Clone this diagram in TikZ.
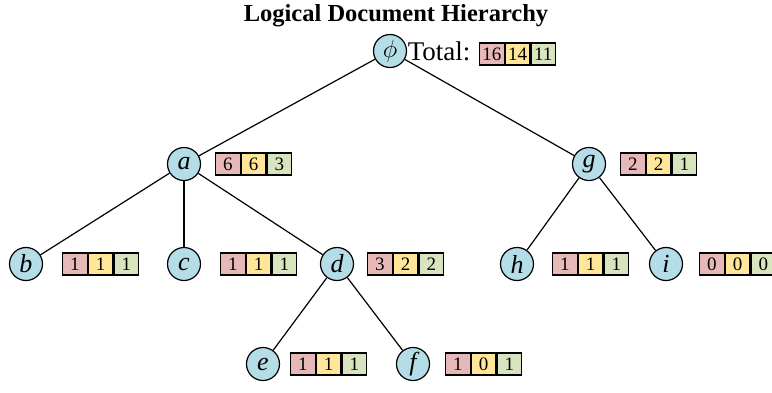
\documentclass[tikz,border=0pt]{standalone}
\usepackage{fontspec}
\setmainfont{Liberation Serif}
\definecolor{cred}{HTML}{E6B8B7}
\definecolor{cyel}{HTML}{FFE699}
\definecolor{cgrn}{HTML}{D7E4BD}
\definecolor{nblue}{HTML}{B4DDE8}
\tikzset{
  vert/.style={circle, draw, fill=nblue, line width=1.2pt, minimum size=33pt, inner sep=0pt, font=\fontsize{26}{26}\selectfont\itshape},
  cell/.style={draw, line width=1.2pt, minimum width=24.5pt, minimum height=22pt, inner sep=0pt, font=\fontsize{19}{19}\selectfont},
  edge/.style={line width=1.2pt}
}
\newcommand{\tallies}[5]{%
  \node[cell, fill=cred, anchor=west] (#1r) at ([xshift=#5pt]#1.center) {#2};
  \node[cell, fill=cyel, anchor=west] (#1y) at (#1r.east) {#3};
  \node[cell, fill=cgrn, anchor=west] (#1g) at (#1y.east) {#4};}
\begin{document}
\begin{tikzpicture}[x=1pt, y=-1pt]
\useasboundingbox (0,0) rectangle (772,392);
\node[font=\bfseries\fontsize{24.5}{24.5}\selectfont] (title) at (396,16) {Logical Document Hierarchy};
\node[vert, font=\fontsize{29}{29}\selectfont] (root) at (390,51) {$\phi$};
\node[vert] (a) at (184,164) {a};
\node[vert] (g) at (589,164) {g};
\node[vert] (b) at (26,264) {b};
\node[vert] (c) at (184,264) {c};
\node[vert] (d) at (337,264) {d};
\node[vert] (h) at (517,264) {h};
\node[vert] (i) at (666,264) {i};
\node[vert] (e) at (263,364) {e};
\node[vert] (f) at (413,364) {f};
\node[anchor=west, inner sep=0.5pt, font=\fontsize{27}{27}\selectfont] (tot) at (root.east) {Total:};
\node[cell, fill=cred, anchor=west] (rootr) at (479,54) {16};
\node[cell, fill=cyel, anchor=west] (rooty) at (rootr.east) {14};
\node[cell, fill=cgrn, anchor=west] (rootg) at (rooty.east) {11};
\tallies{a}{6}{6}{3}{31}
\tallies{g}{2}{2}{1}{31}
\tallies{b}{1}{1}{1}{36}
\tallies{c}{1}{1}{1}{36}
\tallies{d}{3}{2}{2}{30}
\tallies{h}{1}{1}{1}{35}
\tallies{i}{0}{0}{0}{33}
\tallies{e}{1}{1}{1}{27}
\tallies{f}{1}{0}{1}{32}
\draw[edge] (root) -- (a);
\draw[edge] (root) -- (g);
\draw[edge] (a) -- (b);
\draw[edge] (a) -- (c);
\draw[edge] (a) -- (d);
\draw[edge] (d) -- (e);
\draw[edge] (d) -- (f);
\draw[edge] (g) -- (h);
\draw[edge] (g) -- (i);
\end{tikzpicture}
\end{document}
